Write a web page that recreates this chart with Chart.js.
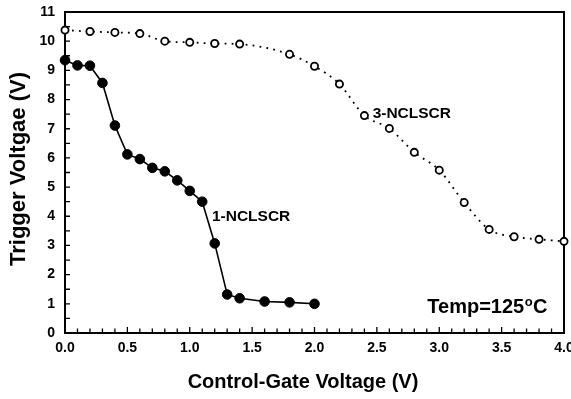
<!DOCTYPE html>
<html>
<head>
<meta charset="utf-8">
<script src="https://cdn.jsdelivr.net/npm/chart.js@4/dist/chart.umd.min.js"></script>
<style>
    body { margin: 0; background: #ffffff; }
    canvas { display: block; }
</style>
</head>
<body>
<canvas id="triggerChart" width="571" height="399"></canvas>
<script>
// 1-NCLSCR (filled circles)
const gateOne = [0, 0.1, 0.2, 0.3, 0.4, 0.5, 0.6, 0.7, 0.8, 0.9, 1.0, 1.1, 1.2, 1.3, 1.4, 1.6, 1.8, 2.0];
const triggerOne = [9.35, 9.17, 9.16, 8.57, 7.11, 6.12, 5.96, 5.66, 5.54, 5.23, 4.87, 4.50, 3.07, 1.32, 1.19, 1.08, 1.05, 1.00];

// 3-NCLSCR (open circles)
const gateThree = [0, 0.2, 0.4, 0.6, 0.8, 1.0, 1.2, 1.4, 1.8, 2.0, 2.2, 2.4, 2.6, 2.8, 3.0, 3.2, 3.4, 3.6, 3.8, 4.0];
const triggerThree = [10.38, 10.33, 10.30, 10.26, 10.00, 9.96, 9.92, 9.90, 9.55, 9.14, 8.53, 7.45, 7.01, 6.19, 5.58, 4.47, 3.55, 3.30, 3.21, 3.14];

const xTicks = [0, 0.5, 1.0, 1.5, 2.0, 2.5, 3.0, 3.5, 4.0];
const yTicks = [0, 1, 2, 3, 4, 5, 6, 7, 8, 9, 10, 11];

const toPoints = (xs, ys) => xs.map((x, i) => ({ x: x, y: ys[i] }));

const FONT = "'Liberation Sans', Arial, Helvetica, sans-serif";

// frame, inward ticks, titles and labels
const paperStyle = {
    id: "paperStyle",
    beforeDatasetsDraw(chart) {
        const { ctx, chartArea, scales } = chart;
        const xs = scales.x, ys = scales.y;
        ctx.save();
        ctx.strokeStyle = "#000";
        ctx.lineWidth = 2;
        ctx.strokeRect(chartArea.left, chartArea.top, chartArea.right - chartArea.left, chartArea.bottom - chartArea.top);

        ctx.lineWidth = 1.3;
        ctx.beginPath();
        // x ticks every 0.1, pointing up
        for (let i = 1; i < 40; i++) {
            const px = xs.getPixelForValue(i / 10);
            const len = (i % 5 === 0) ? 6 : 4.5;
            ctx.moveTo(px, chartArea.bottom);
            ctx.lineTo(px, chartArea.bottom - len);
        }
        // y ticks every 0.5, pointing right
        for (let i = 1; i < 22; i++) {
            const py = ys.getPixelForValue(i / 2);
            ctx.moveTo(chartArea.left, py);
            ctx.lineTo(chartArea.left + 5, py);
        }
        ctx.stroke();
        ctx.restore();
    },
    afterDraw(chart) {
        const { ctx, scales } = chart;
        const xs = scales.x, ys = scales.y;
        ctx.save();
        ctx.fillStyle = "#000";

        // axis titles
        ctx.font = "bold 20px " + FONT;
        ctx.textAlign = "center";
        ctx.textBaseline = "middle";
        ctx.fillText("Control-Gate Voltage (V)", 303, 382);

        ctx.save();
        ctx.translate(19, 169);
        ctx.rotate(-Math.PI / 2);
        ctx.font = "bold 22px " + FONT;
        ctx.fillText("Trigger Voltgae (V)", 0, 0);
        ctx.restore();

        // curve labels
        ctx.textAlign = "left";
        ctx.font = "bold 15.5px " + FONT;
        ctx.fillText("1-NCLSCR", xs.getPixelForValue(1.178), ys.getPixelForValue(3.99));
        ctx.fillText("3-NCLSCR", xs.getPixelForValue(2.466), ys.getPixelForValue(7.50));

        // Temp=125°C with superscript o
        let tx = xs.getPixelForValue(2.904);
        const ty = ys.getPixelForValue(0.87);
        ctx.font = "bold 20px " + FONT;
        ctx.fillText("Temp=125", tx, ty);
        tx += ctx.measureText("Temp=125").width + 0.5;
        ctx.font = "bold 13px " + FONT;
        ctx.fillText("o", tx, ty - 5);
        tx += ctx.measureText("o").width + 0.5;
        ctx.font = "bold 20px " + FONT;
        ctx.fillText("C", tx, ty);
        ctx.restore();
    }
};

new Chart(document.getElementById("triggerChart"), {
    type: "scatter",
    data: {
        datasets: [{
            label: "1-NCLSCR",
            data: toPoints(gateOne, triggerOne),
            showLine: true,
            borderColor: "#000",
            borderWidth: 1.6,
            pointRadius: 4.8,
            pointBackgroundColor: "#000",
            pointBorderColor: "#000",
            pointBorderWidth: 1,
            tension: 0,
            clip: false
        },
        {
            label: "3-NCLSCR",
            data: toPoints(gateThree, triggerThree),
            showLine: true,
            borderColor: "#000",
            borderWidth: 1.8,
            borderDash: [1.8, 5.2],
            cubicInterpolationMode: "monotone",
            pointRadius: 3.6,
            pointBackgroundColor: "#fff",
            pointBorderColor: "#000",
            pointBorderWidth: 1.8,
            clip: false
        }]
    },
    options: {
        responsive: false,
        animation: false,
        layout: { padding: { left: 0, right: 7, top: 12, bottom: 0 } },
        plugins: {
            legend: { display: false },
            tooltip: { enabled: false }
        },
        scales: {
            x: {
                type: "linear",
                min: 0,
                max: 4,
                afterBuildTicks: (scale) => { scale.ticks = xTicks.map(v => ({ value: v })); },
                ticks: {
                    color: "#000",
                    font: { family: FONT, size: 14, weight: "bold" },
                    padding: 7,
                    maxRotation: 0,
                    callback: (v) => Number(v).toFixed(1)
                },
                grid: { display: false, drawTicks: false },
                border: { display: false },
                afterFit: (scale) => {
                    scale.height = 66;
                    scale.paddingLeft = 0;
                    scale.paddingRight = 0;
                }
            },
            y: {
                type: "linear",
                min: 0,
                max: 11,
                afterBuildTicks: (scale) => { scale.ticks = yTicks.map(v => ({ value: v })); },
                ticks: {
                    color: "#000",
                    font: { family: FONT, size: 14, weight: "bold" },
                    padding: 10
                },
                grid: { display: false, drawTicks: false },
                border: { display: false },
                afterFit: (scale) => {
                    scale.width = 65;
                    scale.paddingTop = 0;
                    scale.paddingBottom = 0;
                }
            }
        }
    },
    plugins: [paperStyle]
});
</script>
</body>
</html>
